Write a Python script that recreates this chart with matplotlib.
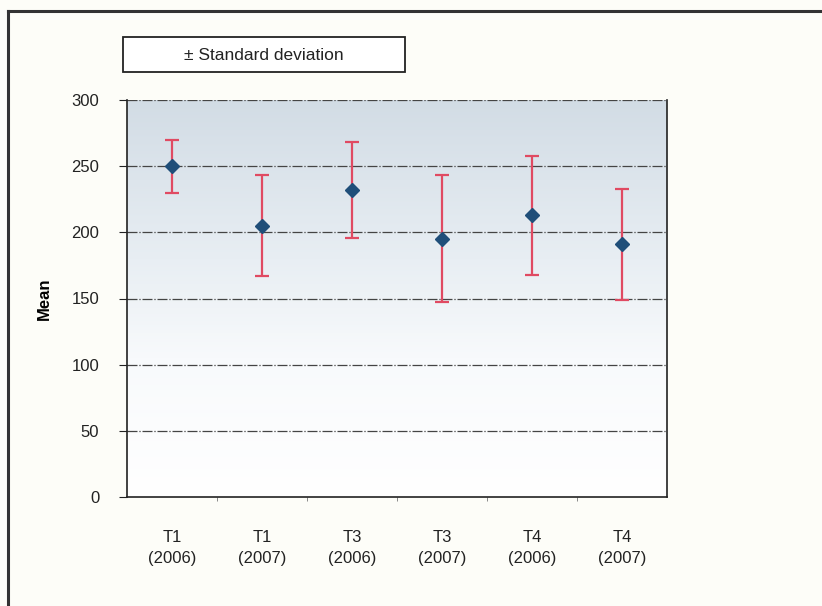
import matplotlib
matplotlib.use("Agg")
import matplotlib.pyplot as plt
import numpy as np
from matplotlib.colors import LinearSegmentedColormap

plt.rcParams['font.family'] = ['Liberation Sans', 'DejaVu Sans']

categories = ["T1\n(2006)", "T1\n(2007)", "T3\n(2006)", "T3\n(2007)", "T4\n(2006)", "T4\n(2007)"]
means = [250, 205, 232, 195, 213, 191]
stds = [20, 38, 36, 48, 45, 42]
yticks = [0, 50, 100, 150, 200, 250, 300]

W, H = 822, 606
fig = plt.figure(figsize=(W / 100, H / 100), dpi=100)
fig.patch.set_facecolor("#fdfdf8")

# outer border (left and top)
fig.add_artist(plt.Line2D([8 / W, 8 / W], [0, 1 - 11 / H], color="#333333", lw=2.2))
fig.add_artist(plt.Line2D([8 / W, 1], [1 - 11 / H, 1 - 11 / H], color="#333333", lw=2.2))

ax = fig.add_axes([127 / W, 109 / H, 540 / W, 397 / H])
x = np.arange(len(categories))
ax.set_xlim(-0.5, len(categories) - 0.5)
ax.set_ylim(0, 300)

# gradient background
cmap = LinearSegmentedColormap.from_list("bg", [(0, "#ffffff"), (0.35, "#f8fafc"), (0.6, "#e8eef3"), (1.0, "#d2dce5")])
grad = np.linspace(0, 1, 256).reshape(-1, 1)
ax.imshow(grad, aspect="auto", cmap=cmap, origin="lower",
          extent=[-0.5, len(categories) - 0.5, 0, 300], zorder=0)

for yv in yticks[1:]:
    ax.axhline(yv, color="#444444", lw=0.9, ls=(0, (8, 1.5, 1, 1.5)), zorder=1)

ax.errorbar(x, means, yerr=stds, fmt="none", ecolor="#e04a62", elinewidth=1.6,
            capsize=5, capthick=1.6, zorder=3)
ax.plot(x, means, ls="none", marker="D", ms=7, color="#1f4e79", zorder=4)

ax.set_yticks(yticks)
ax.set_yticklabels([str(v) for v in yticks], fontsize=12, color="#222222")
ax.set_xticks(x)
ax.set_xticklabels(categories, fontsize=12, color="#222222", linespacing=1.5)
ax.tick_params(axis="x", length=0, pad=24)
ax.set_xticks(np.arange(0.5, len(categories) - 0.5, 1), minor=True)
ax.tick_params(axis="x", which="minor", length=3, direction="out", color="#777777")
ax.tick_params(axis="y", length=6, direction="out", color="#222222", pad=14)
ax.set_ylabel("Mean", fontsize=12, fontweight="bold", labelpad=14)

ax.spines["top"].set_visible(False)
for s in ["left", "right", "bottom"]:
    ax.spines[s].set_color("#222222")
    ax.spines[s].set_linewidth(1.2)

# legend box
fig.patches.append(plt.Rectangle((123 / W, 1 - 72 / H), 282 / W, 35 / H,
                                 transform=fig.transFigure, fc="white", ec="#222222", lw=1.3))
fig.text(264 / W, 1 - 55 / H, "\u00b1 Standard deviation", ha="center", va="center",
         fontsize=12.5, color="#222222")

fig.savefig("out.png", dpi=100, facecolor=fig.get_facecolor())
